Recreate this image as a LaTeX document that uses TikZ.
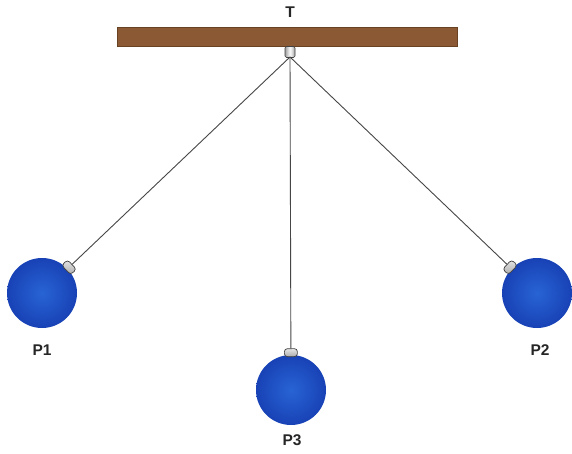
\documentclass[tikz,border=0pt]{standalone}
\usepackage{fontspec}
\setmainfont{Liberation Sans}
\usetikzlibrary{calc}
\definecolor{beam}{RGB}{139,90,52}
\definecolor{beamedge}{RGB}{105,66,36}
\definecolor{ballin}{RGB}{40,100,212}
\definecolor{ballout}{RGB}{24,66,182}
\definecolor{wire}{RGB}{70,70,70}
\tikzset{
  bob/.style={circle, minimum size=70pt, inner sep=0pt, draw=none,
    inner color=ballin, outer color=ballout},
  bobcap/.style={rectangle, rounded corners=3pt, minimum width=13pt,
    minimum height=8pt, inner sep=0pt, draw=black!75, line width=0.7pt,
    top color=gray!20, bottom color=gray!65},
  wirestyle/.style={draw=wire, line width=0.9pt},
  lab/.style={font=\fontsize{15.5}{18}\selectfont\bfseries, text=black!85}
}
\begin{document}
\begin{tikzpicture}[x=1pt, y=-1pt]
  \useasboundingbox[fill=white] (0,0) rectangle (572,454);

  % support beam and its hook
  \node[lab] (T) at (290,12) {T};
  \node[rectangle, fill=beam, draw=beamedge, line width=0.4pt,
        minimum width=340pt, minimum height=19pt, inner sep=0pt] (beam) at (287,37) {};
  \node[rectangle, rounded corners=1.5pt, minimum width=10pt, minimum height=11pt,
        inner sep=0pt, draw=black!75, line width=0.6pt,
        left color=gray!75, right color=gray!75, middle color=white] (hook) at (290,52) {};
  \coordinate (piv) at (290,57);

  % bobs
  \node[bob] (b1) at (42,293) {};
  \node[bob] (b2) at (537,293) {};
  \node[bob] (b3) at (291,390) {};

  % caps turned toward the pivot, and the wires
  \foreach \b in {b1,b2,b3}{
    \path let \p1=($(piv)-(\b)$), \n1={atan2(\y1,\x1)} in
      node[bobcap, rotate=\n1-90, anchor=south] (\b cap) at ($(\b.center)!33pt!(piv)$) {};
    \draw[wirestyle] (piv) -- (\b cap.north);
  }

  % labels
  \node[lab] (l1) at (42,350) {P1};
  \node[lab] (l2) at (540,350) {P2};
  \node[lab] (l3) at (292,440) {P3};
\end{tikzpicture}
\end{document}
